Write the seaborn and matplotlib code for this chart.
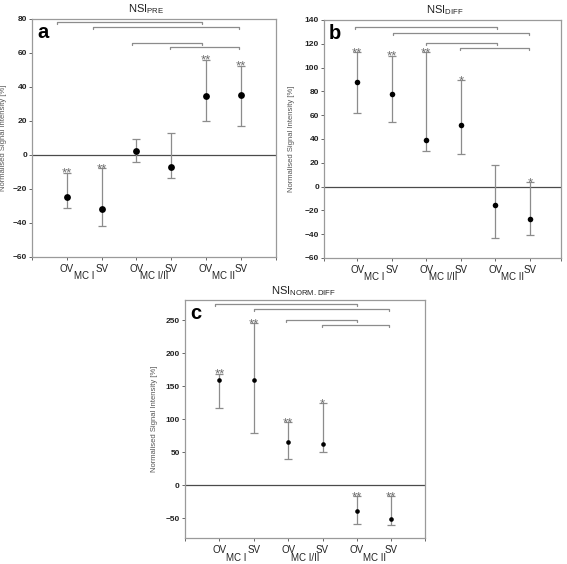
import matplotlib
matplotlib.use('Agg')
import matplotlib.pyplot as plt
import pandas as pd
import seaborn as sns

# Data
groups = ['MC I', 'MC I/II', 'MC II']
vessels = ['OV', 'SV', 'OV', 'SV', 'OV', 'SV']

pre_mean = [-25, -32, 2, -7, 34.5, 35]
pre_low = [-31.5, -42, -4.5, -13.5, 20, 17]
pre_high = [-10.5, -8, 9.5, 13, 56, 52.5]
pre_stars = ['**', '**', '', '', '**', '**']
pre_br_start = [0.7, 1.76, 2.88, 3.96]
pre_br_end = [4.88, 5.96, 4.88, 5.96]
pre_br_level = [78, 75, 66, 63.5]

diff_mean = [88, 77.5, 39, 51.5, -15.5, -27]
diff_low = [62, 54, 30, 27, -43, -41]
diff_high = [113, 110, 113, 89.5, 18.5, 4]
diff_stars = ['**', '**', '**', '*', '', '*']
diff_br_start = [0.93, 2.05, 3.0, 3.97]
diff_br_end = [5.06, 5.98, 5.06, 5.98]
diff_br_level = [134.5, 129, 121, 116.5]

norm_mean = [159, 159, 65, 62, -39.5, -51.5]
norm_low = [116.5, 79, 40, 51, -58, -60]
norm_high = [169, 246, 95.5, 125, -16, -16]
norm_stars = ['**', '**', '**', '*', '**', '**']
norm_br_start = [0.87, 2.0, 2.95, 3.97]
norm_br_end = [5.0, 5.94, 5.0, 5.94]
norm_br_level = [274.5, 267, 250, 243]

sns.set_theme(style='ticks')
plt.rcParams['font.family'] = ['Liberation Sans', 'DejaVu Sans']
plt.rcParams['mathtext.default'] = 'regular'

GREY = '#8c8c8c'


def draw_panel(ax, mean, low, high, stars, br_start, br_end, br_level,
               ylim, yticks, xlim, title, title_x, letter, msize, ylab_x, drop):
    df = pd.DataFrame({'pos': range(1, 7), 'mean': mean, 'low': low, 'high': high})
    ax.axhline(0, color='#4a4a4a', lw=0.9, zorder=1)
    ax.errorbar(df['pos'], df['mean'],
                yerr=[df['mean'] - df['low'], df['high'] - df['mean']],
                fmt='none', ecolor=GREY, elinewidth=0.9, capsize=2.8, capthick=0.9, zorder=2)
    sns.scatterplot(data=df, x='pos', y='mean', color='black', s=msize, linewidth=0,
                    legend=False, ax=ax, zorder=3)
    for x, h, st in zip(df['pos'], df['high'], stars):
        if st:
            ax.annotate(st, xy=(x, h), xytext=(0, -3.0), textcoords='offset points',
                        ha='center', va='baseline', fontsize=9.5, color='#6e6e6e')
    for s, e, lv in zip(br_start, br_end, br_level):
        ax.plot([s, s, e, e], [lv - drop, lv, lv, lv - drop], color=GREY, lw=0.9)

    ax.set_xlim(*xlim)
    ax.set_ylim(*ylim)
    ax.set_yticks(yticks)
    ax.set_xticks(range(1, 7))
    ax.set_xticklabels(vessels, fontsize=7)
    ax.set_xticks(list(xlim), minor=True)
    ax.tick_params(axis='x', which='both', length=2.2, width=0.7, pad=2.8, colors='#666666',
                   labelcolor='#222222')
    ax.tick_params(axis='y', length=2.2, width=0.7, pad=1.6, colors='#666666',
                   labelcolor='#222222', labelsize=6)
    for lbl in ax.get_yticklabels():
        lbl.set_fontweight('bold')
    for i, g in enumerate(groups):
        ax.annotate(g, xy=(2 * i + 1.5, 0), xycoords=('data', 'axes fraction'),
                    xytext=(0, -10.4), textcoords='offset points',
                    ha='center', va='top', fontsize=7, color='#222222')
    for sp in ax.spines.values():
        sp.set_color('#9a9a9a')
        sp.set_linewidth(0.9)
    ax.set_xlabel('')
    ax.set_ylabel('Normalised Signal Intensity [%]', fontsize=5.5, color='#555555')
    ax.yaxis.set_label_coords(ylab_x, 0.5)
    ax.text(title_x, 1.012, title, transform=ax.transAxes, ha='center', va='bottom',
            fontsize=8, color='#222222')
    ax.text(0.02, 0.985, letter, transform=ax.transAxes, ha='left', va='top',
            fontsize=14.5, fontweight='bold', color='black')


fig = plt.figure(figsize=(5.67, 5.64), dpi=100)
ax_a = fig.add_axes([0.0570, 0.5449, 0.4298, 0.4215])
ax_b = fig.add_axes([0.5720, 0.5426, 0.4175, 0.4220])
ax_c = fig.add_axes([0.3263, 0.0460, 0.4233, 0.4212])

draw_panel(ax_a, pre_mean, pre_low, pre_high, pre_stars,
           pre_br_start, pre_br_end, pre_br_level,
           (-60, 80), range(-60, 81, 20), (0, 7.02), 'NSI$_{PRE}$', 0.466, 'a', 24, -0.103, 1.2)
draw_panel(ax_b, diff_mean, diff_low, diff_high, diff_stars,
           diff_br_start, diff_br_end, diff_br_level,
           (-60, 140), range(-60, 141, 20), (0.05, 6.9), 'NSI$_{DIFF}$', 0.51, 'b', 16, -0.124, 1.7)
draw_panel(ax_c, norm_mean, norm_low, norm_high, norm_stars,
           norm_br_start, norm_br_end, norm_br_level,
           (-80, 280), range(-50, 251, 50), (0, 6.98), 'NSI$_{NORM.DIFF}$', 0.495, 'c', 11, -0.112, 3)

fig.savefig('out.png', dpi=100)
